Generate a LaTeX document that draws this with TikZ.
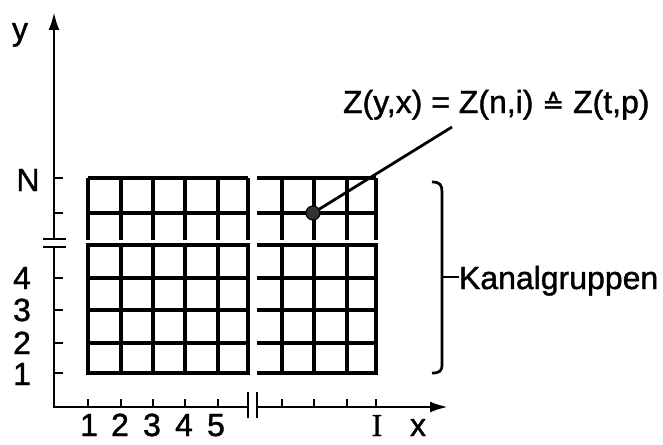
\documentclass[tikz,border=0pt]{standalone}
\usepackage{fontspec}
\setmainfont{Liberation Sans}[FakeBold=1.3]
\newfontfamily\dejavu{DejaVu Sans}[FakeBold=1.3]
\newfontfamily\serifI{Liberation Serif}[FakeBold=1.3]
\usetikzlibrary{arrows.meta}
\begin{document}
\begin{tikzpicture}[x=1pt,y=-1pt,
  gridline/.style={line width=3.2pt},
  axisline/.style={line width=2.7pt},
  tickline/.style={line width=2.2pt},
  lbl/.style={font=\fontsize{32}{32}\selectfont, inner sep=0pt, outer sep=0pt},
  arr/.style={-{Latex[length=18pt,width=11pt]}}]
\useasboundingbox (0,0) rectangle (663,444);

% named coordinates of the axes
\coordinate (O) at (54,407);
\coordinate (ytop) at (54,12);
\coordinate (ybrkA) at (54,247);
\coordinate (ybrkB) at (54,239);
\coordinate (xbrkA) at (248,407);
\coordinate (xbrkB) at (257,407);
\coordinate (xend) at (448,407);

% axes
\draw[axisline] (ybrkA) -- (O) -- (xbrkA);
\draw[axisline,arr] (ybrkB) -- (ytop);
\draw[axisline,arr] (xbrkB) -- (xend);

% break marks
\draw[tickline] (43,239) -- (66,239);
\draw[tickline] (43,247) -- (66,247);
\draw[tickline] (248,392) -- (248,418);
\draw[tickline] (257,392) -- (257,418);

% y ticks
\foreach \t in {178,213,278,310,343,373} \draw[tickline] (54,\t) -- (63,\t);
% x ticks
\foreach \t in {88,121,153,185,218,282,314,347,376} \draw[tickline] (\t,407) -- (\t,399);

% upper left block
\foreach \t in {178,213} \draw[gridline] (88,\t) -- (248,\t);
\foreach \t in {88,121,153,185,218,248} \draw[gridline] (\t,178) -- (\t,240);
% upper right block
\foreach \t in {178,213} \draw[gridline] (257,\t) -- (376,\t);
\foreach \t in {282,314,347,376} \draw[gridline] (\t,178) -- (\t,240);
% lower left block
\draw[gridline] (88,245) rectangle (248,373);
\foreach \t in {278,310,343} \draw[gridline] (88,\t) -- (248,\t);
\foreach \t in {121,153,185,218} \draw[gridline] (\t,245) -- (\t,373);
% lower right block
\draw[gridline] (257,245) -- (376,245) -- (376,373) -- (257,373);
\foreach \t in {278,310,343} \draw[gridline] (257,\t) -- (376,\t);
\foreach \t in {282,314,347} \draw[gridline] (\t,245) -- (\t,373);

% axis labels
\node[lbl, anchor=base] (ylab) at (20,40) {y};
\node[lbl, anchor=base] (Nlab) at (28,191) {N};
\node[lbl, anchor=base] (y4) at (22,289) {4};
\node[lbl, anchor=base] (y3) at (22,321) {3};
\node[lbl, anchor=base] (y2) at (22,354) {2};
\node[lbl, anchor=base] (y1) at (22,385) {1};
\node[lbl, anchor=base] (x1) at (89,436) {1};
\node[lbl, anchor=base] (x2) at (120,436) {2};
\node[lbl, anchor=base] (x3) at (152,436) {3};
\node[lbl, anchor=base] (x4) at (184,436) {4};
\node[lbl, anchor=base] (x5) at (216,436) {5};
\node[lbl, anchor=base] (xI) at (377,436) {\serifI I};
\node[lbl, anchor=base] (xlab) at (418,436) {x};

% marked cell and formula
\node[circle, fill=black!80, draw=black, line width=1.2pt, minimum size=14pt, inner sep=0pt] (dot) at (313,213) {};
\coordinate (lead) at (452,127);
\draw[line width=2.8pt] (dot) -- (lead);
\node[lbl, anchor=base west] (formula) at (343,113) {Z(y,x) = Z(n,i) {\dejavu\fontsize{26}{26}\selectfont ≙} Z(t,p)};

% bracket
\draw[axisline] (432,182) .. controls (440,182) and (442,185) .. (442,192) -- (442,364) .. controls (442,371) and (440,373) .. (432,373);
\coordinate (brmid) at (442,277);
\node[lbl, anchor=base west] (kanal) at (459,289) {Kanalgruppen};
\draw[tickline] (brmid) -- (kanal.west |- brmid);
\end{tikzpicture}
\end{document}
